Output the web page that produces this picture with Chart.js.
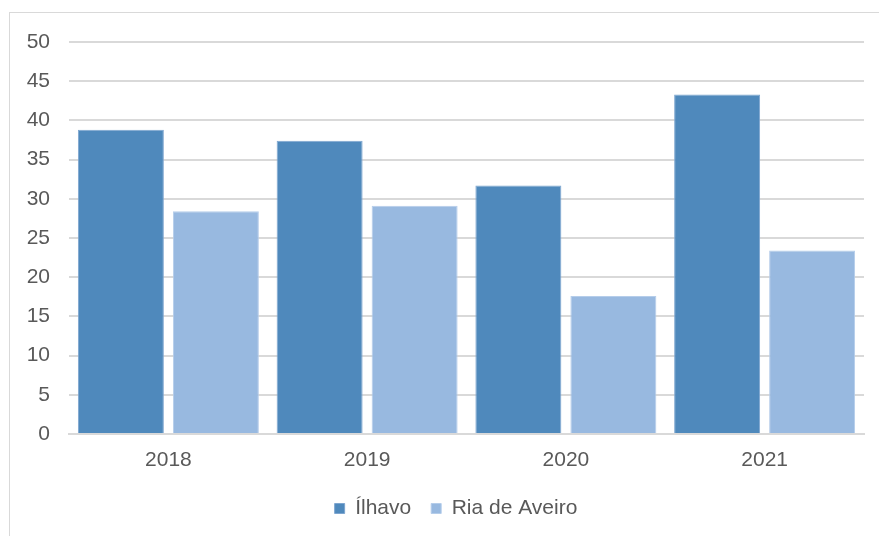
<!DOCTYPE html>
<html>
<head>
<meta charset="utf-8">
<script src="https://cdn.jsdelivr.net/npm/chart.js@4/dist/chart.umd.min.js"></script>
<style>
  html, body { margin: 0; padding: 0; background: #fff; }
  #wrap { position: relative; width: 879px; height: 536px; overflow: hidden; }
  #frame { position: absolute; left: 9px; top: 12px; width: 900px; height: 600px;
           border: 1.5px solid #d9d9d9; box-sizing: border-box; }
  #chart { position: absolute; left: 0; top: 0; }
</style>
</head>
<body>
<div id="wrap">
  <div id="frame"></div>
  <canvas id="chart" width="879" height="536"></canvas>
</div>
<script>
const years = ["2018", "2019", "2020", "2021"];
const ilhavo = [38.8, 37.4, 31.7, 43.3];
const riaAveiro = [28.4, 29.1, 17.6, 23.4];
const yTicks = [0, 5, 10, 15, 20, 25, 30, 35, 40, 45, 50];

const textColor = "#595959";
const gridColor = "#d9d9d9";
const font = { family: "Liberation Sans, Arial", size: 21 };

// the original legend sits centred on the whole frame, nudge it right a bit
const legendShift = {
    id: "legendShift",
    afterLayout(chart) {
        chart.legend.left += 19;
        chart.legend.right += 19;
    }
};

new Chart(document.getElementById("chart"), {
    type: "bar",
    data: {
        labels: years,
        datasets: [
            {
                label: "Ílhavo",
                data: ilhavo,
                backgroundColor: "#4f89bc",
                borderColor: "#7ea6d0",
                borderWidth: 1,
                categoryPercentage: 0.956,
                barPercentage: 0.905
            },
            {
                label: "Ria de Aveiro",
                data: riaAveiro,
                backgroundColor: "#98b9e0",
                borderColor: "#b5cdea",
                borderWidth: 1,
                categoryPercentage: 0.956,
                barPercentage: 0.905
            }
        ]
    },
    options: {
        responsive: false,
        animation: false,
        layout: { padding: { left: 10, top: 42, right: 15, bottom: 7 } },
        plugins: {
            tooltip: { enabled: false },
            legend: {
                position: "bottom",
                labels: {
                    color: textColor,
                    font: font,
                    boxWidth: 10,
                    boxHeight: 10,
                    padding: 20
                }
            }
        },
        scales: {
            x: {
                grid: { display: false, drawTicks: false },
                border: { color: gridColor, width: 2 },
                ticks: { color: textColor, font: font, padding: 14 },
                afterFit: (s) => { s.height = 44; }
            },
            y: {
                min: 0,
                max: 50,
                afterBuildTicks: (s) => { s.ticks = yTicks.map(v => ({ value: v })); },
                grid: { color: gridColor, lineWidth: 2, drawTicks: false },
                border: { display: false },
                ticks: { color: textColor, font: font, padding: 19 },
                afterFit: (s) => { s.width = 59; }
            }
        }
    },
    plugins: [legendShift]
});
</script>
</body>
</html>
